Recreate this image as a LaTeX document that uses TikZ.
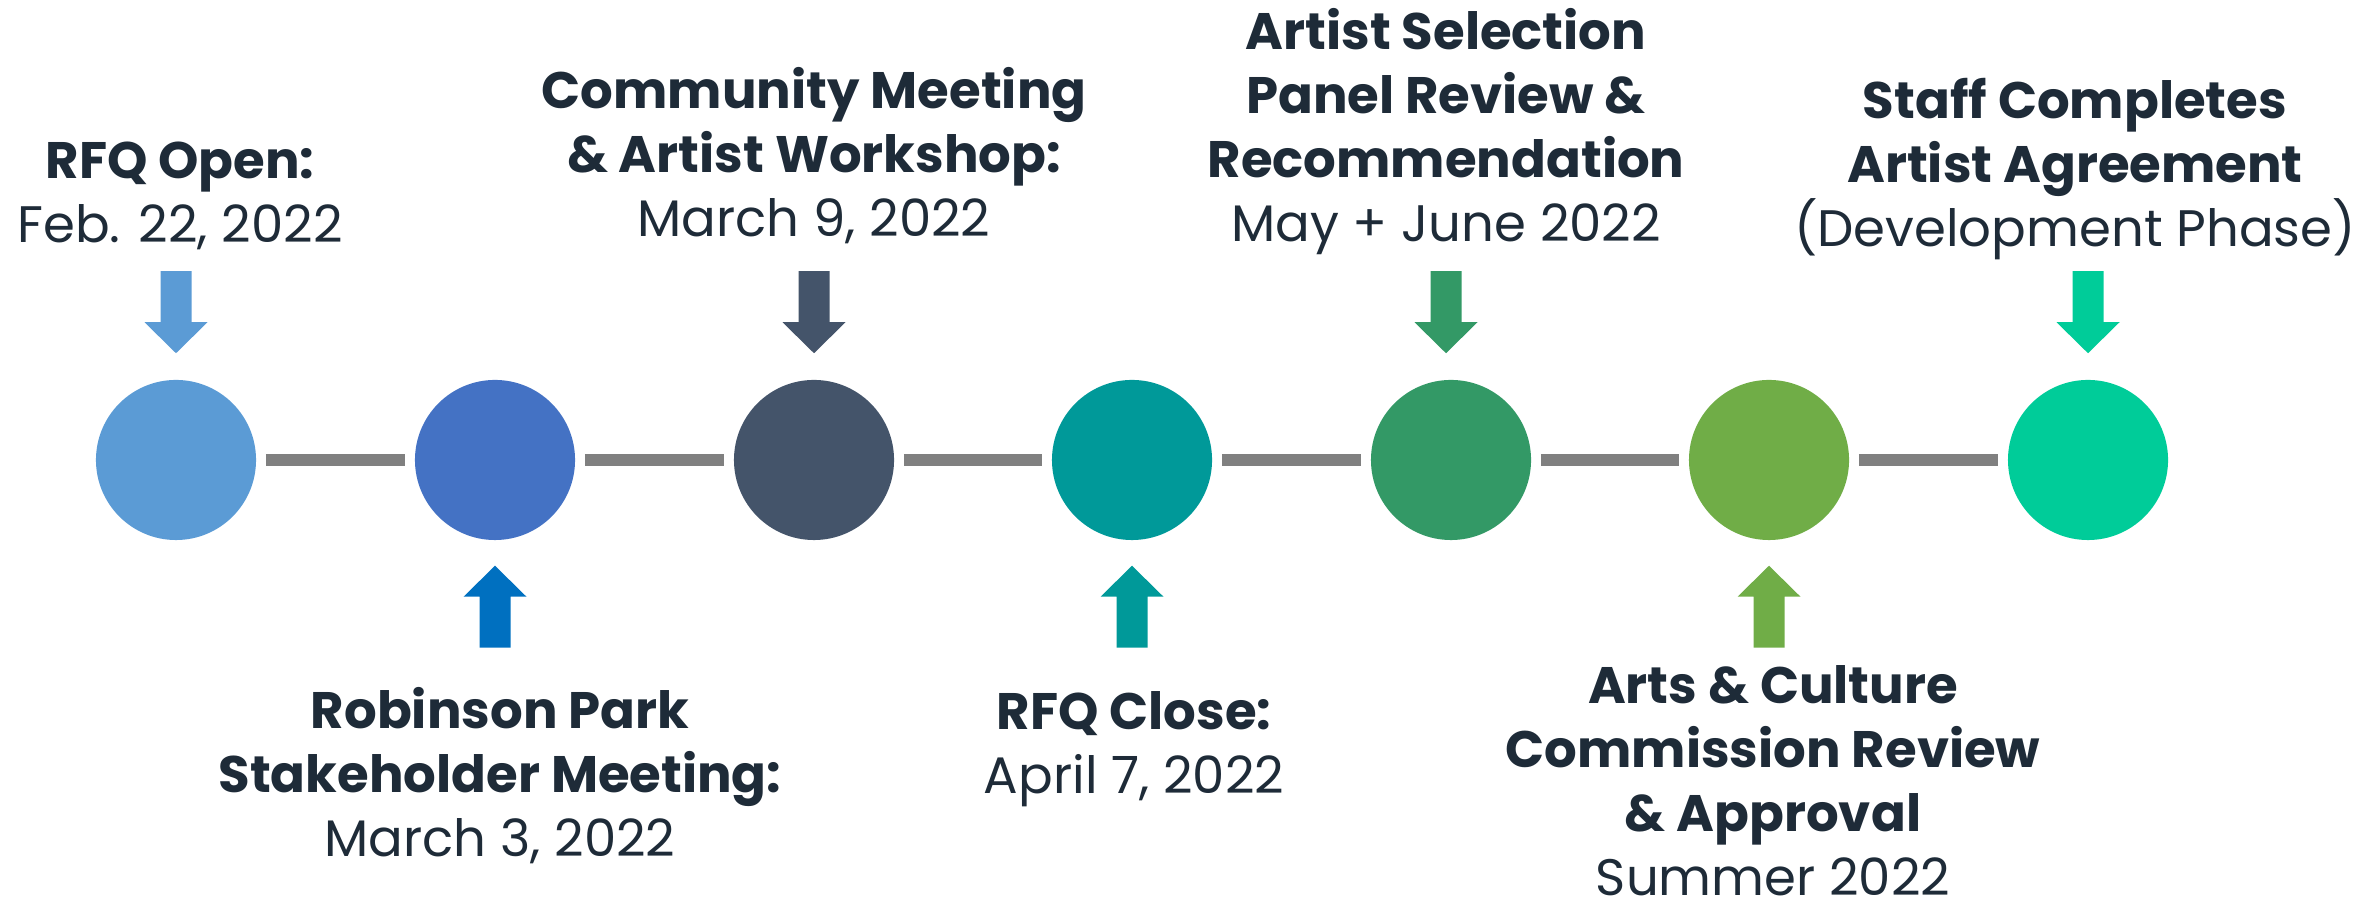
\documentclass[tikz,border=0pt]{standalone}
\usepackage{fontspec}
\setmainfont{Poppins}
\usepackage{tikz}
\usetikzlibrary{calc}

\definecolor{txt}{HTML}{1E2B38}
\definecolor{bar}{HTML}{808080}
\definecolor{colA}{HTML}{5B9BD5}
\definecolor{colB}{HTML}{4472C4}
\definecolor{colBarr}{HTML}{0070C0}
\definecolor{colC}{HTML}{44546A}
\definecolor{colD}{HTML}{009999}
\definecolor{colE}{HTML}{339966}
\definecolor{colF}{HTML}{70AD47}
\definecolor{colG}{HTML}{00CC99}

\tikzset{
  dot/.style={circle, minimum size=1.6cm, inner sep=0pt, fill=#1},
  label/.style={text=txt, align=center, anchor=base, inner sep=0pt,
    font=\fontsize{14.6}{18.2}\selectfont},
  link/.style={draw=bar, line width=0.12cm, shorten <=0.09cm, shorten >=0.09cm},
  downarr/.pic={\fill (0,0) -- (-31.5,31) -- (-15.5,31) -- (-15.5,82)
    -- (15.5,82) -- (15.5,31) -- (31.5,31) -- cycle;},
  uparr/.pic={\fill (0,0) -- (-31.5,-31) -- (-15.5,-31) -- (-15.5,-82)
    -- (15.5,-82) -- (15.5,-31) -- (31.5,-31) -- cycle;}
}

\begin{document}
\begin{tikzpicture}[x=0.01cm, y=0.01cm]
    \useasboundingbox (0,0) rectangle (2379,910);

    % Milestones
    \node[dot=colA] (c1) at (176,450) {};
    \node[dot=colB] (c2) at (495,450) {};
    \node[dot=colC] (c3) at (814,450) {};
    \node[dot=colD] (c4) at (1132,450) {};
    \node[dot=colE] (c5) at (1451,450) {};
    \node[dot=colF] (c6) at (1769,450) {};
    \node[dot=colG] (c7) at (2088,450) {};

    % Links between milestones
    \foreach \a/\b in {c1/c2,c2/c3,c3/c4,c4/c5,c5/c6,c6/c7}
        \draw[link] (\a) -- (\b);

    % Arrows
    \path[fill=colA] (c1.north) ++(0,26) pic {downarr};
    \path[fill=colBarr] (c2.south) ++(0,-25) pic {uparr};
    \path[fill=colC] (c3.north) ++(0,26) pic {downarr};
    \path[fill=colD] (c4.south) ++(0,-25) pic {uparr};
    \path[fill=colE] (c5.north) ++(-5,26) pic {downarr};
    \path[fill=colF] (c6.south) ++(0,-25) pic {uparr};
    \path[fill=colG] (c7.north) ++(0,26) pic {downarr};

    % Labels (anchored at the baseline of the last line)
    \node[label] (l1) at (180,667) {\textbf{RFQ Open:}\\Feb. 22, 2022};
    \node[label] (l2) at (500,53) {\textbf{Robinson Park}\\\textbf{Stakeholder Meeting:}\\March 3, 2022};
    \node[label] (l3) at (814,673) {\textbf{Community Meeting}\\\textbf{\& Artist Workshop:}\\March 9, 2022};
    \node[label] (l4) at (1134,116) {\textbf{RFQ Close:}\\April 7, 2022};
    \node[label] (l5) at (1446,668) {\textbf{Artist Selection}\\\textbf{Panel Review \&}\\\textbf{Recommendation}\\May + June 2022};
    \node[label] (l6) at (1773,14) {\textbf{Arts \& Culture}\\\textbf{Commission Review}\\\textbf{\& Approval}\\Summer 2022};
    \node[label] (l7) at (2075,663) {\textbf{Staff Completes}\\\textbf{Artist Agreement}\\(Development Phase)};
\end{tikzpicture}
\end{document}
